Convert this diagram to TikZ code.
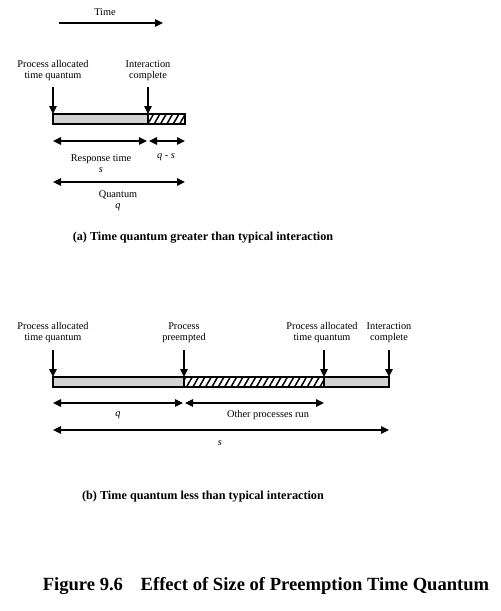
\documentclass[tikz,border=0pt]{standalone}
\usepackage{fontspec}
\setmainfont{Liberation Serif}
\usetikzlibrary{arrows.meta,patterns.meta}
\begin{document}
\begin{tikzpicture}[x=1pt,y=-1pt,
  lbl/.style={font=\fontsize{10.3}{11}\selectfont, align=center, inner sep=0},
  tip/.tip={Triangle[length=8pt,width=7.5pt]},
  arr/.style={-tip, line width=1.3pt},
  dbl/.style={tip-tip, line width=1.3pt},
  seg/.style={draw, line width=1.2pt, minimum height=10pt, inner sep=0, outer sep=0, anchor=north west},
  grayseg/.style={seg, fill=gray!35},
  hatchseg/.style={seg, pattern={Lines[angle=60,distance=5.5pt,line width=1.5pt]}},
  captext/.style={font=\bfseries\fontsize{12.2}{14}\selectfont, inner sep=0}]
\useasboundingbox (0,0) rectangle (501,611);

% Time arrow
\node[lbl] (time) at (105,12) {Time};
\coordinate (t0) at (59,23);
\coordinate (t1) at (163,23);
\draw[arr] (t0) -- (t1);

% ---------- (a) ----------
\node[lbl] (apa) at (53,70.5) {Process allocated\\time quantum};
\node[lbl] (aic) at (148,70.5) {Interaction\\complete};
\node[grayseg, minimum width=95pt] (ag) at (53,114) {};
\node[hatchseg, minimum width=37pt] (ah) at (148,114) {};
\coordinate (ad1) at (ag.north west |- 0,87);
\coordinate (ad2) at (ah.north west |- 0,87);
\draw[arr] (ad1) -- (ag.north west);
\draw[arr] (ad2) -- (ah.north west);

\coordinate (ar0) at (53,141);
\coordinate (ar1) at (147,141);
\coordinate (ar2) at (149,141);
\coordinate (ar3) at (185,141);
\draw[dbl] (ar0) -- (ar1);
\draw[dbl] (ar2) -- (ar3);
\node[lbl] (rt) at (101,163.5) {Response time\\\textit{s}};
\node[lbl] (qs) at (166,157) {\textit{q - s}};

\coordinate (aq0) at (53,182);
\coordinate (aq1) at (185,182);
\draw[dbl] (aq0) -- (aq1);
\node[lbl] (qu) at (118,201) {Quantum\\\textit{q}};

\node[captext] (capa) at (203,238) {(a) Time quantum greater than typical interaction};

% ---------- (b) ----------
\node[lbl] (bpa) at (53,332.5) {Process allocated\\time quantum};
\node[lbl] (bpp) at (184,332.5) {Process\\preempted};
\node[lbl] (bpa2) at (322,332.5) {Process allocated\\time quantum};
\node[lbl] (bic) at (389,332.5) {Interaction\\complete};

\node[grayseg, minimum width=131pt] (bg1) at (53,377) {};
\node[hatchseg, minimum width=140pt] (bh) at (184,377) {};
\node[grayseg, minimum width=65pt] (bg2) at (324,377) {};

\coordinate (bd1) at (bg1.north west |- 0,350);
\coordinate (bd2) at (bh.north west |- 0,350);
\coordinate (bd3) at (bg2.north west |- 0,350);
\coordinate (bd4) at (bg2.north east |- 0,350);
\draw[arr] (bd1) -- (bg1.north west);
\draw[arr] (bd2) -- (bh.north west);
\draw[arr] (bd3) -- (bg2.north west);
\draw[arr] (bd4) -- (bg2.north east);

\coordinate (bq0) at (53,403);
\coordinate (bq1) at (183,403);
\coordinate (bq2) at (185,403);
\coordinate (bq3) at (324,403);
\draw[dbl] (bq0) -- (bq1);
\draw[dbl] (bq2) -- (bq3);
\node[lbl] (bq) at (118,415) {\textit{q}};
\node[lbl] (op) at (268,415) {Other processes run};

\coordinate (bs0) at (53,430);
\coordinate (bs1) at (389,430);
\draw[dbl] (bs0) -- (bs1);
\node[lbl] (bs) at (220,443) {\textit{s}};

\node[captext] (capb) at (203,497) {(b) Time quantum less than typical interaction};

\node[font=\bfseries\fontsize{18.6}{22}\selectfont, inner sep=0] (fig) at (266,586) {Figure 9.6\hspace{0.7em} Effect of Size of Preemption Time Quantum};
\end{tikzpicture}
\end{document}
